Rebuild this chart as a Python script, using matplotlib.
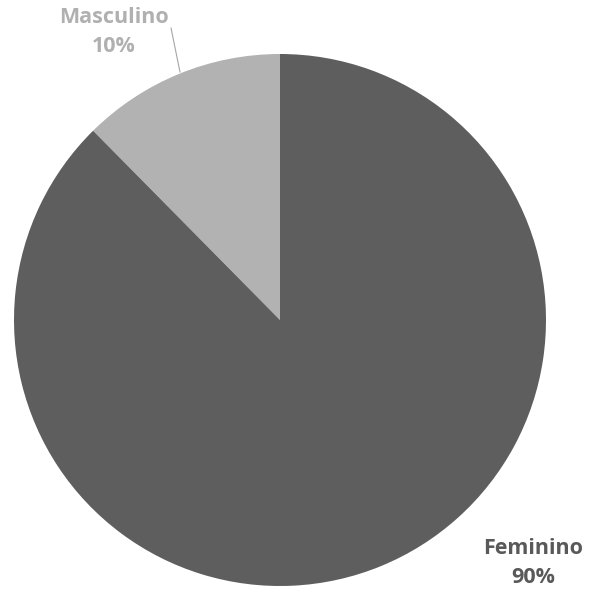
import matplotlib.pyplot as plt

# data
categories = ['Masculino', 'Feminino']
values = [12.4, 87.6]
pct_labels = ['10%', '90%']
colors = ['#b2b2b2', '#5e5e5e']
label_colors = ['#b0b0b0', '#595959']

fig = plt.figure(figsize=(5.93, 5.89), dpi=100)
ax = fig.add_axes([0, 0, 1, 1])

cx, cy, r = 280, 589 - 320, 266
ax.pie(values, colors=colors, startangle=90, counterclock=True,
       center=(cx, cy), radius=r, frame=True,
       wedgeprops={'linewidth': 0})
ax.axis('off')
ax.set_xlim(0, 593)
ax.set_ylim(0, 589)
ax.set_aspect('equal')

font = {'family': 'Open Sans', 'weight': 'bold', 'size': 15.5}
ax.text(114, 589 - 32, categories[0] + '\n' + pct_labels[0], ha='center', va='center',
        color=label_colors[0], linespacing=1.45, **font)
ax.text(533, 589 - 563, categories[1] + '\n' + pct_labels[1], ha='center', va='center',
        color=label_colors[1], linespacing=1.45, **font)
ax.plot([171, 180], [589 - 28, 589 - 72], color='#a6a6a6', lw=0.8)

fig.savefig('out.png', dpi=100)
